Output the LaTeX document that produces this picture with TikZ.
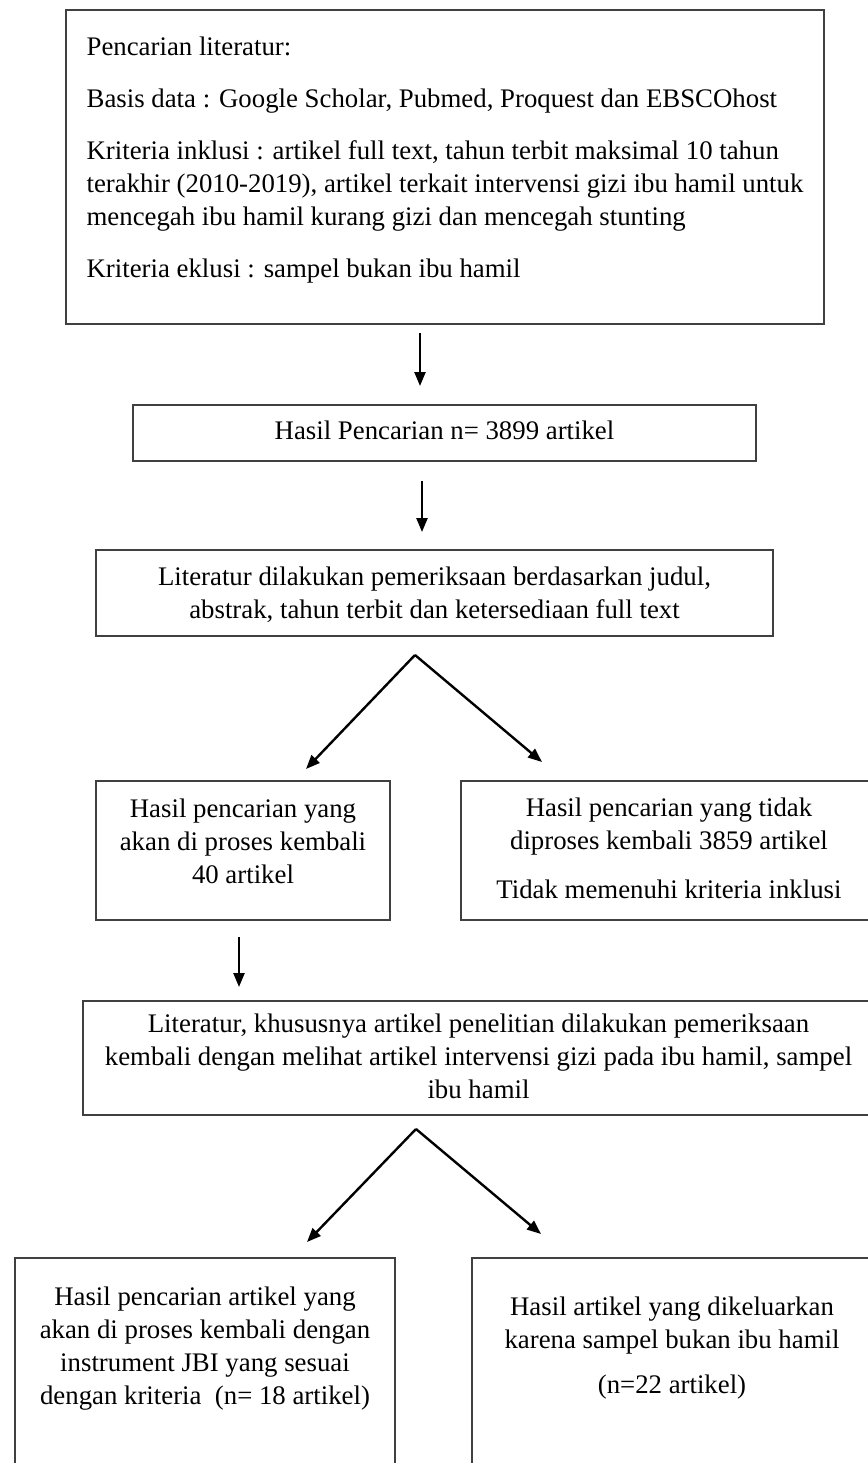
\documentclass[tikz,border=0pt]{standalone}
\usepackage{fontspec}
\setmainfont{Liberation Serif}
\usetikzlibrary{arrows.meta}

\newcommand{\boxfont}{\fontsize{13.4pt}{16.5pt}\selectfont}

\begin{document}
\begin{tikzpicture}[x=0.5pt, y=-0.5pt,
    box/.style={draw=black!75, line width=1pt, inner sep=0pt, anchor=north west, font=\boxfont, align=center},
    arr/.style={-{Triangle[length=7pt, width=5.5pt]}, line width=1.2pt}]
    \useasboundingbox (0,0) rectangle (868,1463);
    \fill[white] (0,0) rectangle (868,1463);
    \clip (0,0) rectangle (868,1463);

    % Search step
    \node[box, align=left, minimum width=379pt, text height=133.5pt, text depth=23.5pt] (cari) at (65,9)
        {Pencarian literatur:\\[9.5pt]
         Basis data : Google Scholar, Pubmed, Proquest dan EBSCOhost\\[9.5pt]
         Kriteria inklusi : artikel full text, tahun terbit maksimal 10 tahun\\
         terakhir (2010-2019), artikel terkait intervensi gizi ibu hamil untuk\\
         mencegah ibu hamil kurang gizi dan mencegah stunting\\[9.5pt]
         Kriteria eklusi : sampel bukan ibu hamil};
    \node[box, minimum width=311.5pt, text height=17pt, text depth=11pt] (hasil) at (132,404)
        {Hasil Pencarian n= 3899 artikel};
    \node[box, minimum width=338.5pt, text height=34pt, text depth=9pt] (periksa) at (95,549)
        {Literatur dilakukan pemeriksaan berdasarkan judul,\\ abstrak, tahun terbit dan ketersediaan full text};

    % First split
    \node[box, minimum width=147pt, text height=51pt, text depth=18.5pt] (proses) at (95,780)
        {Hasil pencarian yang\\ akan di proses kembali\\ 40 artikel};
    \node[box, minimum width=208pt, text height=58.5pt, text depth=11pt] (tolak) at (460,780)
        {Hasil pencarian yang tidak\\ diproses kembali 3859 artikel\\[8pt] Tidak memenuhi kriteria inklusi};
    \node[box, minimum width=395.5pt, text height=48.5pt, text depth=8.5pt] (periksaulang) at (82,1000)
        {Literatur, khususnya artikel penelitian dilakukan pemeriksaan\\ kembali dengan melihat artikel intervensi gizi pada ibu hamil, sampel\\ ibu hamil};

    % Second split
    \node[box, minimum width=190pt, text height=73pt, text depth=48.5pt] (jbi) at (14,1257)
        {Hasil pencarian artikel yang\\ akan di proses kembali dengan\\ instrument JBI yang sesuai\\ dengan kriteria\ \ (n= 18 artikel)};
    \node[box, minimum width=200pt, text height=67.5pt, text depth=54pt] (keluar) at (471,1257)
        {Hasil artikel yang dikeluarkan\\ karena sampel bukan ibu hamil\\[6pt] (n=22 artikel)};

    % Arrows
    \draw[arr] ([xshift=-12.5pt, yshift=-4pt]cari.south) -- ([xshift=-12.25pt, yshift=9pt]hasil.north);
    \draw[arr] ([xshift=-11.25pt, yshift=-9.5pt]hasil.south) -- ([xshift=-6.25pt, yshift=8.5pt]periksa.north);
    \draw[arr] ([xshift=-9.75pt, yshift=-9pt]periksa.south) -- ([xshift=31.5pt, yshift=5.5pt]proses.north);
    \draw[arr] ([xshift=-9.75pt, yshift=-9pt]periksa.south) -- ([xshift=-63.5pt, yshift=9pt]tolak.north);
    \draw[arr] ([xshift=-2pt, yshift=-8pt]proses.south) -- ([xshift=-119.75pt, yshift=6.5pt]periksaulang.north);
    \draw[arr] ([xshift=-31.25pt, yshift=-6.5pt]periksaulang.south) -- ([xshift=51pt, yshift=7.5pt]jbi.north);
    \draw[arr] ([xshift=-31.25pt, yshift=-6.5pt]periksaulang.south) -- ([xshift=-65.5pt, yshift=11.5pt]keluar.north);
\end{tikzpicture}
\end{document}
